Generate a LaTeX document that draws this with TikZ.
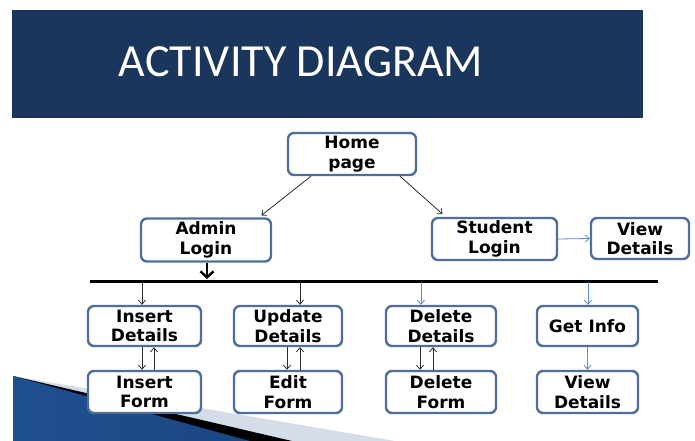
\documentclass[tikz,border=0pt]{standalone}
\usepackage{fontspec}
\setmainfont{DejaVu Sans}
\newfontfamily\titlefont{Carlito}
\usepackage{xcolor}
\usetikzlibrary{arrows.meta}

\definecolor{banner}{HTML}{1B365D}
\definecolor{boxline}{HTML}{4F6E9C}
\definecolor{flowblue}{HTML}{5B8BD0}
\definecolor{arrowgrey}{HTML}{2B2B2B}
\definecolor{decoblue}{HTML}{1E4F90}
\definecolor{decolight}{HTML}{D5DDEA}

\tikzset{
	box/.style={shape=rectangle, draw=boxline, line width=2.4pt, rounded corners=6pt, fill=white, align=center, inner sep=0pt, font=\bfseries\fontsize{17}{19.5}\selectfont},
	flow/.style={draw=arrowgrey, line width=.8pt, -{Straight Barb[length=4pt,width=7pt]}},
	blueflow/.style={draw=flowblue, line width=.8pt, -{Straight Barb[length=4pt,width=7pt]}}
}

\begin{document}
\begin{tikzpicture}[x=1pt, y=-1pt]
			\useasboundingbox (0,0) rectangle (695,441);
			\fill[decolight] (13,376) -- (395,441) -- (13,441) -- cycle;
			\fill[black] (13,376) -- (292,441) -- (13,441) -- cycle;
			\shade[left color=decoblue, middle color=decoblue!55!white, right color=decoblue!90!black] (13,376) -- (250,441) -- (13,441) -- cycle;
			\fill[banner] (12,10) rectangle (643,118);
			\node (title) at (301,62) [text=white, font=\titlefont\fontsize{46}{50}\selectfont] {ACTIVITY DIAGRAM};
			\coordinate (home) at (352,154);
			\coordinate (admin) at (206,240);
			\coordinate (student) at (494.5,239);
			\coordinate (viewtop) at (640,238.5);
			\node (homepage) at (home) [box, minimum width=128pt, minimum height=42pt] {Home\\page};
			\node (adminlogin) at (admin) [box, minimum width=130pt, minimum height=43pt] {Admin\\Login};
			\node (studentlogin) at (student) [box, minimum width=125pt, minimum height=42pt] {Student\\Login};
			\node (viewinfo) at (viewtop) [box, minimum width=98pt, minimum height=41pt] {View\\Details};
			\node (insdetails) at (144.5,326) [box, minimum width=113pt, minimum height=40pt] {Insert\\Details};
			\node (upddetails) at (288,326) [box, minimum width=108pt, minimum height=40pt] {Update\\Details};
			\node (deldetails) at (441,326) [box, minimum width=110pt, minimum height=40pt] {Delete\\Details};
			\node (getinfo) at (587.5,326) [box, minimum width=101pt, minimum height=40pt] {Get Info};
			\node (insform) at (144.5,392) [box, minimum width=113pt, minimum height=42pt] {Insert\\Form};
			\node (editform) at (288,392) [box, minimum width=108pt, minimum height=42pt] {Edit\\Form};
			\node (delform) at (441,392) [box, minimum width=110pt, minimum height=42pt] {Delete\\Form};
			\node (viewdetails) at (587.5,392) [box, minimum width=101pt, minimum height=42pt] {View\\Details};
			\coordinate (barleft) at (90,281);
			\coordinate (barright) at (658,281);
			\coordinate (adminbar) at (207,279);
			\coordinate (bar1) at (142,282);
			\coordinate (bar2) at (300,282);
			\coordinate (bar3) at (421,282);
			\coordinate (bar4) at (588,282);
			\draw[line width=3pt] (barleft) -- (barright);
			\draw[line width=2.4pt, -{Straight Barb[length=6pt,width=13pt]}] (adminlogin.south -| adminbar) -- (adminbar);
			\draw[flow, shorten >=3pt] ([xshift=-41pt]homepage.south) -- ([xshift=53pt]adminlogin.north);
			\draw[flow, shorten >=4pt] ([xshift=48pt]homepage.south) -- ([xshift=-49pt]studentlogin.north);
			\draw[blueflow] (studentlogin.east) -- (viewinfo.west);
			\draw[flow] (bar1) -- (bar1 |- insdetails.north);
			\draw[flow] (bar2) -- (bar2 |- upddetails.north);
			\draw[blueflow] (bar3) -- (bar3 |- deldetails.north);
			\draw[blueflow] (bar4) -- (bar4 |- getinfo.north);
			\draw[flow] ([xshift=-2.5pt]insdetails.south) -- ([xshift=-2.5pt]insform.north);
			\draw[flow] ([xshift=9.5pt]insform.north) -- ([xshift=9.5pt]insdetails.south);
			\draw[flow] ([xshift=-1pt]upddetails.south) -- ([xshift=-1pt]editform.north);
			\draw[flow] ([xshift=12pt]editform.north) -- ([xshift=12pt]upddetails.south);
			\draw[flow] ([xshift=-21pt]deldetails.south) -- ([xshift=-21pt]delform.north);
			\draw[flow] ([xshift=-8pt]delform.north) -- ([xshift=-8pt]deldetails.south);
			\draw[blueflow] (getinfo.south) -- (viewdetails.north);
		\end{tikzpicture}
\end{document}
